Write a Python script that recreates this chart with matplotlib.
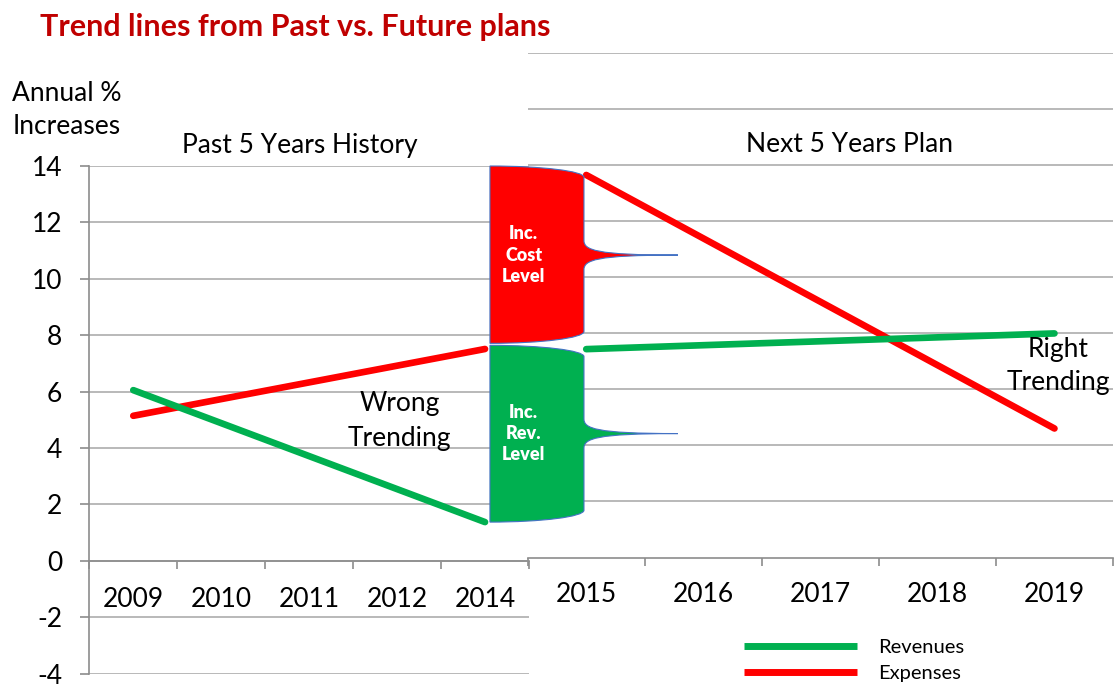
import matplotlib
matplotlib.use('Agg')
import matplotlib.pyplot as plt
from matplotlib.path import Path
from matplotlib.patches import PathPatch
from matplotlib.lines import Line2D
import numpy as np

plt.rcParams['font.family'] = ['Lato', 'DejaVu Sans']
plt.rcParams['axes.unicode_minus'] = False

# ---------------- data ----------------
past_categories = ['2009', '2010', '2011', '2012', '2014']
future_categories = ['2015', '2016', '2017', '2018', '2019']
past_trend_years = ['2009', '2014']
past_revenues = [6.05, 1.37]
past_expenses = [5.14, 7.51]
future_trend_years = ['2015', '2019']
future_revenues = [7.43, 7.99]
future_expenses = [13.64, 4.60]
left_yticks = list(range(-4, 15, 2))
right_gridlines = list(range(2, 19, 2))
cost_brace = (7.71, 14.0, 10.84)   # bottom, top, tip level
rev_brace = (1.37, 7.64, 4.51)
legend_labels = ['Revenues', 'Expenses']

# ---------------- style ----------------
GREEN = '#00B050'
RED = '#FF0000'
GRID = '#ADADAD'
AXIS = '#8C8C8C'
FS = 19
W, H = 1119, 687

fig = plt.figure(figsize=(W / 100, H / 100), dpi=100)


def px_rect(x0, y0, x1, y1):
    return [x0 / W, 1 - y1 / H, (x1 - x0) / W, (y1 - y0) / H]


ax2 = fig.add_axes(px_rect(527.7, 52.7, 1113, 557.5))
ax1 = fig.add_axes(px_rect(89.3, 166, 529, 673.5))
ax2.set_zorder(1)
ax1.set_zorder(2)
ax1.patch.set_alpha(0)

# ---- left (past) axes ----
ax1.set_xlim(-0.5, 4.5)
ax1.set_ylim(-4, 14)
for s in ['top', 'right']:
    ax1.spines[s].set_visible(False)
ax1.spines['bottom'].set_position(('data', 0))
for s in ['bottom', 'left']:
    ax1.spines[s].set_color(AXIS)
    ax1.spines[s].set_linewidth(1.2)
ax1.set_yticks(left_yticks)
ax1.grid(axis='y', color=GRID, lw=1.2)
ax1.set_axisbelow(True)
ax1.tick_params(axis='y', length=6.5, color=AXIS, width=1.2, pad=13, labelsize=FS)
ax1.set_xticks(range(len(past_categories)))
ax1.set_xticklabels(past_categories)
ax1.set_xticks(np.arange(-0.5, len(past_categories), 1), minor=True)
ax1.tick_params(axis='x', which='major', length=0, pad=19, labelsize=FS)
ax1.tick_params(axis='x', which='minor', length=6, color=AXIS, width=1.2)

px = [past_categories.index(y) for y in past_trend_years]
ax1.plot(px, past_expenses, color=RED, lw=4.8, solid_capstyle='round', clip_on=False, zorder=3)
ax1.plot(px, past_revenues, color=GREEN, lw=4.8, solid_capstyle='round', clip_on=False, zorder=3)

# ---- right (future) axes ----
ax2.set_xlim(-0.5, 4.5)
ax2.set_ylim(0, 18)
for s in ['top', 'right', 'left']:
    ax2.spines[s].set_visible(False)
ax2.spines['bottom'].set_color(AXIS)
ax2.spines['bottom'].set_linewidth(1.2)
ax2.set_yticks(right_gridlines)
ax2.set_yticklabels([])
ax2.tick_params(axis='y', length=0)
ax2.grid(axis='y', color=GRID, lw=1.2)
ax2.set_axisbelow(True)
ax2.set_xticks(range(len(future_categories)))
ax2.set_xticklabels(future_categories)
ax2.set_xticks(np.arange(-0.5, len(future_categories), 1), minor=True)
ax2.tick_params(axis='x', which='major', length=0, pad=18, labelsize=FS)
ax2.tick_params(axis='x', which='minor', length=6, color=AXIS, width=1.2)

fx = [future_categories.index(y) for y in future_trend_years]
ax2.plot(fx, future_expenses, color=RED, lw=4.8, solid_capstyle='round', clip_on=False, zorder=3)
ax2.plot(fx, future_revenues, color=GREEN, lw=4.8, solid_capstyle='round', clip_on=False, zorder=3)


# ---- curly braces (drawn in left-axes data coordinates) ----
def brace(ax, spec, color, text):
    bot, top, mid = spec
    x0, x1, x2 = 4.056, 5.125, 6.194
    w = x1 - x0
    dt, db, c = 0.40, 0.42, 0.52
    verts = [
        (x0, top),
        (x0 + 0.55 * w, top), (x1, top - 0.45 * dt), (x1, top - dt),
        (x1, mid + c),
        (x1, mid + 0.35 * c), (x1 + 0.12 * (x2 - x1), mid), (x2, mid),
        (x1 + 0.12 * (x2 - x1), mid), (x1, mid - 0.35 * c), (x1, mid - c),
        (x1, bot + db),
        (x1, bot + 0.45 * db), (x0 + 0.55 * w, bot), (x0, bot),
        (x0, top),
    ]
    codes = [Path.MOVETO,
             Path.CURVE4, Path.CURVE4, Path.CURVE4,
             Path.LINETO,
             Path.CURVE4, Path.CURVE4, Path.CURVE4,
             Path.CURVE4, Path.CURVE4, Path.CURVE4,
             Path.LINETO,
             Path.CURVE4, Path.CURVE4, Path.CURVE4,
             Path.CLOSEPOLY]
    patch = PathPatch(Path(verts, codes), facecolor=color, edgecolor='#4472C4',
                      lw=0.8, clip_on=False, zorder=4)
    ax.add_patch(patch)
    ax.text(x0 + 0.36 * w, mid, text, color='white', fontsize=13, fontweight='heavy',
            ha='center', va='center', linespacing=1.3, zorder=5)


brace(ax1, cost_brace, RED, 'Inc.\nCost\nLevel')
brace(ax1, rev_brace, GREEN, 'Inc.\nRev.\nLevel')

# ---- annotations ----
ax1.text(3.03, 4.97, 'Wrong\nTrending', fontsize=FS, ha='center', va='center', linespacing=1.5)
ax2.text(4.03, 6.83, 'Right\nTrending', fontsize=FS, ha='center', va='center', linespacing=1.38)

fig.text(40 / W, 1 - 27 / H, 'Trend lines from Past vs. Future plans', fontsize=22,
         fontweight='bold', color='#C00000', ha='left', va='center')
fig.text(67 / W, 1 - 110 / H, 'Annual %\nIncreases', fontsize=FS, ha='center', va='center',
         linespacing=1.38)
fig.text(300 / W, 1 - 145 / H, 'Past 5 Years History', fontsize=FS, ha='center', va='center')
fig.text(850 / W, 1 - 145 / H, 'Next 5 Years Plan', fontsize=FS, ha='center', va='center')

handles = [Line2D([], [], color=GREEN, lw=5, solid_capstyle='butt'),
           Line2D([], [], color=RED, lw=5, solid_capstyle='butt')]
fig.legend(handles, legend_labels, loc='upper left', bbox_to_anchor=(744 / W, 1 - 639 / H),
           frameon=False, fontsize=14.5, handlelength=5.6, handletextpad=1.05,
           labelspacing=0.42, borderpad=0, borderaxespad=0)

fig.savefig('out.png', dpi=100)
